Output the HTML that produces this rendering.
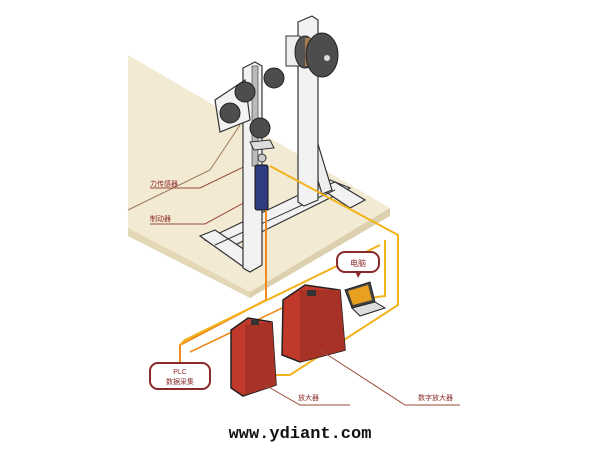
<!DOCTYPE html>
<html><head><meta charset="utf-8"><style>
html,body{margin:0;padding:0;background:#fff;}
svg{display:block;}
text{font-family:"Liberation Sans","Noto Sans CJK SC",sans-serif;}
</style></head><body>
<svg width="600" height="450" viewBox="0 0 600 450" xmlns="http://www.w3.org/2000/svg">
<rect width="600" height="450" fill="#fff"/>
<!-- table -->
<polygon points="128,55 390,208 390,214 250,294 128,232" fill="#f3ead3"/>
<polygon points="390,208 390,216 250,298 250,292" fill="#dcd0ae"/>
<polygon points="128,228 250,292 250,298 128,236" fill="#e3d7b6"/>
<!-- label leader lines -->
<polyline points="128,210 210,170 240,125" fill="none" stroke="#9a7a5a" stroke-width="1"/>
<polyline points="150,188 200,188 258,160" fill="none" stroke="#9a4a3a" stroke-width="1"/>
<polyline points="150,224 205,224 258,195" fill="none" stroke="#9a4a3a" stroke-width="1"/>
<!-- base frame -->
<polygon points="205,240 330,180 350,188 225,250" fill="#f2f2f2" stroke="#333" stroke-width="1.2"/>
<polygon points="200,236 215,230 260,260 245,268" fill="#f2f2f2" stroke="#333" stroke-width="1.2"/>
<polygon points="320,188 335,182 365,200 350,208" fill="#f2f2f2" stroke="#333" stroke-width="1.2"/>
<polyline points="215,245 335,190 M225,250 340,195" fill="none" stroke="#333"/>
<polygon points="300,120 310,118 332,190 322,194" fill="#eee" stroke="#333" stroke-width="1.2"/>
<!-- right upright -->
<polygon points="298,22 312,16 318,20 318,200 304,206 298,202" fill="#f2f2f2" stroke="#333" stroke-width="1.2"/>
<rect x="286" y="36" width="14" height="30" fill="#eee" stroke="#333"/>
<!-- spool -->
<ellipse cx="305" cy="52" rx="10" ry="16" fill="#555" stroke="#222"/>
<rect x="305" y="38" width="12" height="28" fill="#a57a4e"/>
<ellipse cx="322" cy="55" rx="16" ry="22" fill="#4d4d4d" stroke="#222"/>
<circle cx="327" cy="58" r="3" fill="#ddd"/>
<!-- left upright -->
<polygon points="243,68 255,62 262,66 262,265 250,272 243,268" fill="#f2f2f2" stroke="#333" stroke-width="1.2"/>
<polygon points="215,100 245,80 250,120 220,132" fill="#f2f2f2" stroke="#333" stroke-width="1.2"/>
<rect x="252" y="66" width="6" height="100" fill="#bbb" stroke="#333" stroke-width="0.6"/>
<circle cx="245" cy="92" r="10" fill="#4d4d4d" stroke="#222"/>
<circle cx="230" cy="113" r="10" fill="#4d4d4d" stroke="#222"/>
<circle cx="274" cy="78" r="10" fill="#4d4d4d" stroke="#222"/>
<circle cx="260" cy="128" r="10" fill="#4d4d4d" stroke="#222"/>
<polygon points="250,142 270,140 274,148 254,150" fill="#ddd" stroke="#333"/>
<circle cx="262" cy="158" r="4" fill="#ccc" stroke="#333"/>
<!-- cylinder -->
<rect x="255" y="165" width="13" height="45" rx="2" fill="#2f3c80" stroke="#111"/>
<!-- cables -->
<polyline points="266,210 266,300 180,345 180,362" fill="none" stroke="#f08a1c" stroke-width="2"/>
<polyline points="270,166 398,235 398,305 290,375 258,375 258,380" fill="none" stroke="#f2b21a" stroke-width="2"/>
<polyline points="385,240 385,296 355,300" fill="none" stroke="#f2b21a" stroke-width="2"/>
<polyline points="180,345 185,340 380,245" fill="none" stroke="#f2b21a" stroke-width="2"/>
<polyline points="190,352 320,290" fill="none" stroke="#f08a1c" stroke-width="1.6"/>
<!-- amplifiers -->
<polygon points="283,300 305,285 340,290 345,350 300,362 282,355" fill="#c0392b" stroke="#222" stroke-width="1.5"/>
<polygon points="300,290 340,290 345,350 300,362" fill="#a93226"/>
<rect x="307" y="290" width="9" height="6" fill="#333"/>
<polygon points="231,330 248,318 272,322 276,385 243,396 231,388" fill="#c0392b" stroke="#222" stroke-width="1.5"/>
<polygon points="245,325 272,322 276,385 245,395" fill="#a93226"/>
<rect x="251" y="320" width="8" height="5" fill="#333"/>
<!-- laptop -->
<polygon points="345,290 370,282 375,302 352,308" fill="#444" stroke="#222"/>
<polygon points="348,291 368,285 372,300 353,305" fill="#e8a020"/>
<polygon points="352,308 375,302 385,308 360,316" fill="#ddd" stroke="#222"/>
<!-- bubbles -->
<rect x="337" y="252" width="42" height="20" rx="8" fill="#fff" stroke="#8b2a2a" stroke-width="2"/>
<polygon points="355,271 362,271 358,278" fill="#8b2a2a"/>
<text x="358" y="266" font-size="8" text-anchor="middle" fill="#8b2a2a">电脑</text>
<rect x="150" y="363" width="60" height="26" rx="8" fill="#fff" stroke="#8b2a2a" stroke-width="2"/>
<text x="180" y="374" font-size="7" text-anchor="middle" fill="#8b2a2a">PLC</text>
<text x="180" y="384" font-size="7" text-anchor="middle" fill="#8b2a2a">数据采集</text>
<!-- labels -->
<text x="150" y="186" font-size="7" fill="#8b2a2a">力传感器</text>
<text x="150" y="221" font-size="7" fill="#8b2a2a">制动器</text>
<polyline points="265,385 300,405 350,405" fill="none" stroke="#9a4a3a"/>
<text x="298" y="400" font-size="7" fill="#8b2a2a">放大器</text>
<polyline points="320,350 405,405 460,405" fill="none" stroke="#9a4a3a"/>
<text x="418" y="400" font-size="7" fill="#8b2a2a">数字放大器</text>
<text x="300" y="438" font-size="17" font-weight="bold" text-anchor="middle" fill="#111" style="font-family:'Liberation Mono',monospace">www.ydiant.com</text>
</svg>
</body></html>
